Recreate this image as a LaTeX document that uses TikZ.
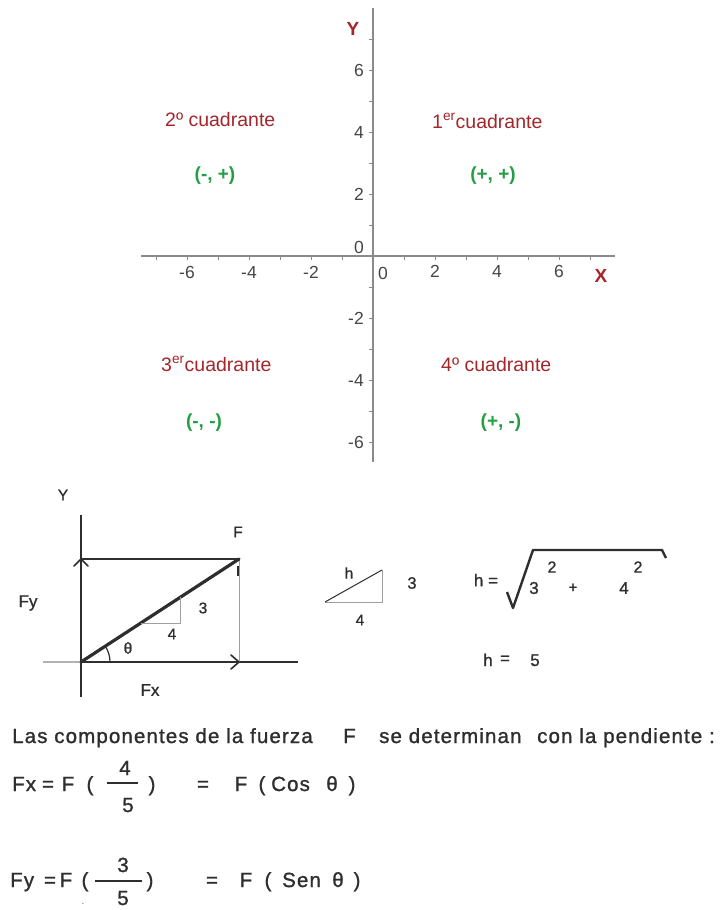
\documentclass[tikz,border=0pt]{standalone}
\usepackage{fontspec}
\setmainfont{Liberation Sans}
\newfontfamily\handfont[LetterSpace=5.5,FakeBold=1.2]{Liberation Sans}
\newfontfamily\labfont[FakeBold=1.0]{Liberation Sans}
\definecolor{axgray}{HTML}{8A8A8A}
\definecolor{lblgray}{HTML}{454545}
\definecolor{quadred}{HTML}{A3262A}
\definecolor{signgreen}{HTML}{22A043}
\definecolor{ink}{HTML}{2E2E2E}
\begin{document}
\begin{tikzpicture}[x=1pt,y=-1pt,
  axisline/.style={draw=axgray, line width=1.3pt},
  tickline/.style={draw=axgray, line width=0.9pt},
  ticklbl/.style={text=lblgray, font=\fontsize{17.5}{20}\selectfont, inner sep=0pt},
  quad/.style={text=quadred, font=\fontsize{19.5}{23}\selectfont, inner sep=0pt, anchor=base west},
  sign/.style={text=signgreen, font=\bfseries\fontsize{19}{23}\selectfont, inner sep=0pt},
  axname/.style={text=quadred, font=\bfseries\fontsize{19}{23}\selectfont, inner sep=0pt},
  hand/.style={text=ink, font=\labfont\fontsize{15.5}{18}\selectfont, inner sep=0pt},
  eq/.style={text=ink, font=\handfont\fontsize{20.5}{24}\selectfont, inner sep=0pt, anchor=base},
  eqw/.style={eq, anchor=base west},
  thinline/.style={draw=gray!75, line width=0.9pt},
  darkline/.style={draw=ink, line width=1.5pt},
  chevron/.style={draw=ink, line width=1.6pt, line cap=round, line join=round}
]
\useasboundingbox[fill=white] (0,0) rectangle (724,910);

% ================= Cartesian plane =================
\coordinate (O) at (373,256);
\draw[axisline] (141,256) -- (615,256);
\draw[axisline] (373,8) -- (373,462);
\foreach \i in {-7,...,-1,1,2,...,7} {
  \draw[tickline] (373+31*\i,256) -- ++(0,4);
}
\foreach \i in {-6,...,-1,1,2,...,7} {
  \draw[tickline] (373,256-31*\i) -- ++(-4,0);
}
\foreach \i in {-6,-4,-2} {
  \node[ticklbl] at (373+31*\i,272) {\i};
}
\foreach \i in {2,4,6} {
  \node[ticklbl] at (373+31*\i,271) {\i};
}
\node[ticklbl] (x0) at (383,273) {0};
\foreach \i in {6,4,2,-2,-4,-6} {
  \node[ticklbl, anchor=east] at (364,256-31*\i) {\i};
}
\node[ticklbl, anchor=east] (y0) at (364,247) {0};

\node[axname] (Y) at (353,29) {Y};
\node[axname] (X) at (601,276) {X};

\node[quad] (q2) at (165,126) {2º cuadrante};
\node[quad] (q1) at (432,128) {1\textsuperscript{er}cuadrante};
\node[quad] (q3) at (161,371) {3\textsuperscript{er}cuadrante};
\node[quad] (q4) at (441,371) {4º cuadrante};

\node[sign] (s2) at (215,176) {(-, +)};
\node[sign] (s1) at (493,176) {(+, +)};
\node[sign] (s3) at (204,423) {(-, -)};
\node[sign] (s4) at (501,423) {(+, -)};

% ================= Force diagram =================
\coordinate (A) at (81,662);   % origin
\coordinate (P) at (239,559);  % tip of F
\coordinate (Ytop) at (81,515);
\coordinate (Ybot) at (81,697);
\coordinate (Xleft) at (43,662);
\coordinate (Xright) at (298,662);
\coordinate (Fyend) at (81,559);
\coordinate (Fxend) at (239,662);

\draw[draw=gray!60, line width=1.2pt] (Xleft) -- (A);
\draw[darkline] (A) -- (Xright);
\draw[darkline] (Ytop) -- (Ybot);
\draw[draw=ink, line width=1.2pt] (Fyend) -- (P);
\draw[thinline] (P) -- (Fxend);
\draw[draw=ink, line width=1.3pt] (238,566) -- (238,576);
\draw[draw=ink, line width=3.2pt, line cap=round] (A) -- (P);
% chevron arrowheads
\draw[chevron] (74,566) -- (Fyend) -- (88,566);
\draw[chevron] (231,655) -- (Fxend) -- (231,669);
% small slope triangle
\draw[thinline] (141,623) -- (180,623) -- (180,597);
% angle arc
\draw[draw=ink, line width=1.2pt] (110,662) arc[start angle=0, end angle=-33, radius=29];

\node[hand] (lY) at (63,495) {Y};
\node[hand] (lF) at (238,532) {F};
\node[hand, font=\labfont\fontsize{17}{19}\selectfont] (lFy) at (28,603) {Fy};
\node[hand, font=\labfont\fontsize{17}{19}\selectfont] (lFx) at (150,690) {Fx};
\node[hand] (l3) at (203,608) {3};
\node[hand] (l4) at (172,634) {4};
\node[hand] (lth) at (128,648) {θ};

% ================= hypotenuse =================
\coordinate (T1) at (325,602);
\coordinate (T2) at (382,602);
\coordinate (T3) at (382,570);
\draw[thinline] (T1) -- (T2) -- (T3);
\draw[draw=ink, line width=1pt] (T1) -- (T3);
\node[hand] (th) at (349,573) {h};
\node[hand, font=\labfont\fontsize{16.5}{19}\selectfont] (t3) at (412,583) {3};
\node[hand] (t4) at (360,620) {4};

\node[hand, font=\labfont\fontsize{17}{20}\selectfont] (heq) at (486,580) {h =};
\draw[draw=ink, line width=2.4pt, line join=round] (507,592) -- (513,608) -- (533,550) -- (662,550) -- (666,558);
\node[hand, font=\labfont\fontsize{17}{20}\selectfont] (r3) at (534,588) {3};
\node[hand, font=\labfont\fontsize{16}{19}\selectfont] (r3s) at (552,567) {2};
\node[hand, font=\labfont\fontsize{15}{18}\selectfont] (rplus) at (573,588) {+};
\node[hand, font=\labfont\fontsize{17}{20}\selectfont] (r4) at (624,588) {4};
\node[hand, font=\labfont\fontsize{16}{19}\selectfont] (r4s) at (638,567) {2};

\node[hand, font=\labfont\fontsize{17}{20}\selectfont, anchor=base] (h5a) at (488,666) {h};
\node[hand, font=\labfont\fontsize{17}{20}\selectfont, anchor=base] (h5b) at (505,664) {=};
\node[hand, font=\labfont\fontsize{17}{20}\selectfont, anchor=base] (h5c) at (535,666) {5};

% ================= text =================
\node[eqw] (t1) at (12,743) {Las componentes de la fuerza};
\node[eqw] (t2) at (343,743) {F};
\node[eqw] (t3) at (379,743) {se determinan};
\node[eqw] (t4) at (537,743) {con la pendiente :};

% Fx line
\node[eqw] (fx1) at (12,791) {Fx};
\node[eq] (fx2) at (48,791) {=};
\node[eq] (fx3) at (68,791) {F};
\node[eq] (fx4) at (90,791) {(};
\draw[draw=ink, line width=1.5pt] (107,783) -- (138,783);
\node[eq] (fx5) at (125,775) {4};
\node[eq] (fx6) at (128,812) {5};
\node[eq] (fx7) at (152,791) {)};
\node[eq] (fx8) at (203,791) {=};
\node[eq] (fx9) at (241,791) {F};
\node[eq] (fx10) at (262,791) {(};
\node[eqw] (fx11) at (271,791) {Cos};
\node[eq] (fx12) at (332,791) {θ};
\node[eq] (fx13) at (352,791) {)};

% Fy line
\node[eqw] (fy1) at (10,887) {Fy};
\node[eq] (fy2) at (50,887) {=};
\node[eq] (fy3) at (66,887) {F};
\node[eq] (fy4) at (85,887) {(};
\draw[draw=ink, line width=1.5pt] (95,881) -- (142,881);
\node[eq] (fy5) at (123,872) {3};
\node[eq] (fy6) at (123,905) {5};
\node[eq] (fy7) at (150,887) {)};
\node[eq, font=\fontsize{8}{8}\selectfont] (fy8) at (83,904) {.};
\node[eq] (fy9) at (212,887) {=};
\node[eq] (fy10) at (246,887) {F};
\node[eq] (fy11) at (268,887) {(};
\node[eqw] (fy12) at (282,887) {Sen};
\node[eq] (fy13) at (338,887) {θ};
\node[eq] (fy14) at (357,887) {)};
\end{tikzpicture}
\end{document}
